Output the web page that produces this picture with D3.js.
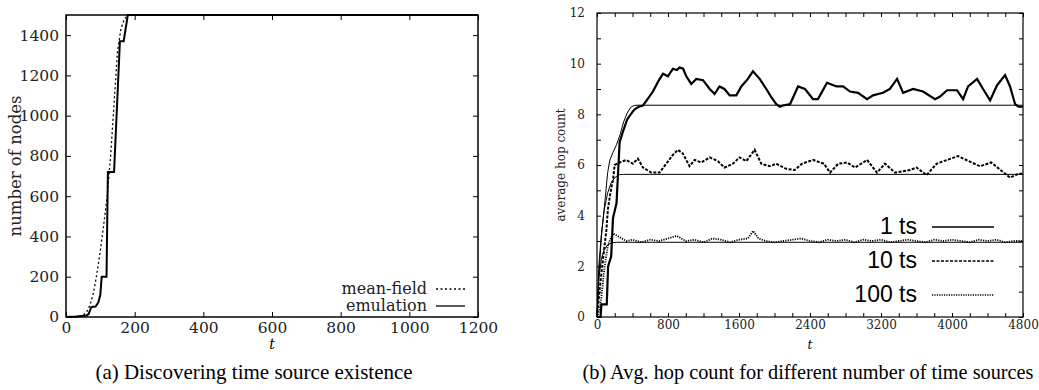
<!DOCTYPE html>
<html>
<head>
<meta charset="utf-8">
<script src="https://cdn.jsdelivr.net/npm/d3@7"></script>
<style>
  body { margin: 0; background: #fff; }
  svg { display: block; }
  .tick text { font-family: 'DejaVu Serif', serif; fill: #222; }
  .tick line { stroke: #000; }
</style>
</head>
<body>
<div id="chart"></div>
<script>
// ---- (a) discovering time source existence: [t, number of nodes]
const meanField = [[0, 0], [40, 2], [50, 8], [60, 25], [70, 60], [80, 120], [90, 215], [100, 330], [110, 460],
  [120, 600], [130, 800], [140, 1060], [150, 1320], [160, 1430], [170, 1480], [180, 1498], [200, 1500], [1200, 1500]]
const emulation = [[0, 0], [30, 3], [60, 8], [66, 15], [74, 50], [86, 52], [94, 72], [100, 110], [104, 200],
  [118, 200], [122, 720], [140, 720], [157, 1370], [168, 1370], [180, 1500], [1200, 1500]]
const xTicksA = [0, 200, 400, 600, 800, 1000, 1200]
const yTicksA = [0, 200, 400, 600, 800, 1000, 1200, 1400]
const legendA = ['mean-field', 'emulation']

// ---- (b) avg. hop count: [t, hops]
const emu1 = [[0, 0], [40, 0], [50, 0.5], [110, 0.5], [125, 2.0], [160, 2.4], [180, 3.9], [220, 4.5], [255, 6.9],
  [300, 7.4], [340, 7.8], [400, 8.1], [424, 8.2], [470, 8.3], [518, 8.35], [570, 8.6], [630, 8.9], [690, 9.3],
  [743, 9.6], [800, 9.5], [855, 9.8], [900, 9.75], [930, 9.85], [970, 9.8], [1006, 9.5], [1062, 9.2], [1119, 9.4],
  [1194, 9.35], [1270, 9.0], [1325, 8.8], [1380, 9.1], [1436, 9.0], [1495, 8.75], [1570, 8.75], [1626, 9.1],
  [1700, 9.4], [1757, 9.7], [1833, 9.4], [1908, 9.0], [1960, 8.7], [2020, 8.4], [2062, 8.3], [2095, 8.35],
  [2175, 8.4], [2265, 9.1], [2344, 9.0], [2434, 8.6], [2490, 8.6], [2592, 9.25], [2626, 9.2], [2700, 9.1],
  [2772, 9.1], [2851, 8.9], [2941, 8.85], [3043, 8.6], [3110, 8.75], [3223, 8.85], [3300, 9.0], [3381, 9.4],
  [3449, 8.85], [3562, 9.0], [3674, 8.9], [3809, 8.6], [3866, 8.7], [3944, 8.95], [4057, 8.95], [4125, 8.6],
  [4181, 9.1], [4283, 9.4], [4350, 9.0], [4429, 8.55], [4508, 9.15], [4598, 9.55], [4654, 9.1], [4711, 8.4],
  [4750, 8.3], [4800, 8.3]]
const emu10 = [[0, 0], [30, 1.1], [68, 2.3], [105, 3.4], [124, 4.3], [161, 5.1], [180, 5.4], [199, 6.0], [255, 6.1],
  [330, 6.2], [405, 6.05], [460, 6.25], [518, 5.9], [612, 5.7], [705, 5.7], [780, 6.05], [855, 6.4], [912, 6.6],
  [968, 6.45], [1043, 5.95], [1100, 6.2], [1175, 6.1], [1270, 6.3], [1362, 6.15], [1436, 5.9], [1532, 6.05],
  [1607, 6.3], [1682, 6.15], [1776, 6.6], [1851, 6.05], [1945, 5.95], [2020, 6.05], [2133, 5.85], [2227, 5.8],
  [2310, 6.05], [2434, 6.2], [2557, 6.05], [2626, 5.7], [2718, 6.05], [2817, 6.1], [2908, 5.9], [3043, 6.2],
  [3155, 5.7], [3245, 6.05], [3358, 5.7], [3525, 5.8], [3600, 5.9], [3714, 5.6], [3826, 6.05], [3944, 6.2],
  [4068, 6.35], [4159, 6.2], [4316, 5.95], [4441, 6.1], [4530, 5.85], [4654, 5.5], [4745, 5.65], [4800, 5.65]]
const emu100 = [[0, 0], [30, 0.3], [50, 0.8], [86, 2.0], [124, 2.85], [180, 3.3], [255, 3.15], [330, 3.0],
  [400, 3.05], [500, 2.95], [600, 3.05], [700, 3.0], [800, 3.1], [900, 3.2], [1000, 3.0], [1100, 3.05],
  [1200, 2.95], [1300, 3.1], [1400, 3.05], [1500, 2.95], [1600, 3.05], [1700, 3.1], [1760, 3.4], [1820, 3.1],
  [1900, 3.0], [2000, 2.95], [2100, 3.0], [2200, 3.05], [2300, 3.1], [2400, 3.0], [2500, 2.95], [2600, 3.05],
  [2700, 3.0], [2800, 3.05], [2900, 2.95], [3000, 3.05], [3100, 3.0], [3200, 3.05], [3300, 2.95], [3400, 3.0],
  [3500, 3.05], [3600, 3.0], [3700, 2.95], [3800, 3.05], [3900, 3.0], [4000, 3.05], [4100, 3.0], [4200, 2.95],
  [4300, 3.05], [4400, 3.0], [4500, 3.05], [4600, 2.95], [4700, 3.0], [4800, 3.0]]
const mf1 = [[0, 0], [20, 1.5], [50, 3.2], [90, 4.6], [120, 5.7], [145, 6.2], [180, 6.5], [220, 6.8], [260, 7.2],
  [300, 7.7], [340, 8.05], [380, 8.28], [420, 8.35], [460, 8.36], [4800, 8.36]]
const mf10 = [[0, 0], [20, 2.0], [50, 3.3], [80, 4.2], [120, 4.9], [160, 5.3], [200, 5.5], [250, 5.62], [300, 5.63], [4800, 5.63]]
const mf100 = [[0, 0], [20, 1.5], [50, 2.3], [80, 2.65], [120, 2.85], [170, 2.93], [220, 2.95], [4800, 2.95]]
const legendB = ['1 ts', '10 ts', '100 ts']

const captions = ['(a) Discovering time source existence', '(b) Avg. hop count for different number of time sources']

const svg = d3.select('#chart').append('svg')
  .attr('width', 1039)
  .attr('height', 390)

// Draws the inward ticks on all four sides plus the frame
function frame (g, x, y, xTicks, yTicks, xLabel, yLabel, tickLen, fontSize, frameWidth, padX, padY) {
  const [x0, x1] = x.range()
  const [y0, y1] = y.range()
  const bottom = g.append('g').attr('transform', `translate(0,${y0})`)
    .call(d3.axisBottom(x).tickValues(xTicks).tickSizeInner(-tickLen).tickSizeOuter(0).tickPadding(padX).tickFormat(xLabel))
  const top = g.append('g').attr('transform', `translate(0,${y1})`)
    .call(d3.axisTop(x).tickValues(xTicks).tickSizeInner(-tickLen).tickSizeOuter(0).tickFormat(''))
  const left = g.append('g').attr('transform', `translate(${x0},0)`)
    .call(d3.axisLeft(y).tickValues(yTicks).tickSizeInner(-tickLen).tickSizeOuter(0).tickPadding(padY).tickFormat(yLabel))
  const right = g.append('g').attr('transform', `translate(${x1},0)`)
    .call(d3.axisRight(y).tickValues(yTicks).tickSizeInner(-tickLen).tickSizeOuter(0).tickFormat(''))
  ;[bottom, top, left, right].forEach(a => {
    a.select('.domain').remove()
    a.selectAll('text').style('font-size', fontSize + 'px')
  })
  g.append('rect')
    .attr('x', x0).attr('y', y1)
    .attr('width', x1 - x0).attr('height', y0 - y1)
    .attr('fill', 'none').attr('stroke', '#000').attr('stroke-width', frameWidth)
}

// ---------- chart (a)
const gA = svg.append('g')
const xA = d3.scaleLinear().domain([0, 1200]).range([66, 478])
const yA = d3.scaleLinear().domain([0, 1500]).range([317, 15])
frame(gA, xA, yA, xTicksA, yTicksA, d3.format('d'), d3.format('d'), 5, 15.5, 1.5, 5, 7)

const lineA = d3.line().x(d => xA(d[0])).y(d => yA(d[1]))
gA.append('path').datum(meanField).attr('d', lineA)
  .attr('fill', 'none').attr('stroke', '#000').attr('stroke-width', 1.3).attr('stroke-dasharray', '2,2.5')
gA.append('path').datum(emulation).attr('d', lineA)
  .attr('fill', 'none').attr('stroke', '#000').attr('stroke-width', 2)

gA.append('text')
  .attr('transform', `translate(21,${(15 + 317) / 2}) rotate(-90)`)
  .attr('text-anchor', 'middle')
  .style('font-family', 'DejaVu Serif, serif').style('font-size', '16.5px').attr('fill', '#222')
  .text('number of nodes')
gA.append('text')
  .attr('x', 272).attr('y', 349)
  .attr('text-anchor', 'middle')
  .style('font-family', 'DejaVu Serif, serif').style('font-style', 'italic').style('font-size', '14px')
  .text('t')

// legend (a)
legendA.forEach((name, i) => {
  const ly = 289 + i * 17
  gA.append('text')
    .attr('x', 427).attr('y', ly + 5)
    .attr('text-anchor', 'end')
    .style('font-family', 'DejaVu Serif, serif').style('font-size', '16px').attr('fill', '#222')
    .text(name)
  gA.append('line')
    .attr('x1', 436).attr('x2', 465).attr('y1', ly).attr('y2', ly)
    .attr('stroke', '#000')
    .attr('stroke-width', 1.3)
    .attr('stroke-dasharray', i === 0 ? '2,2.5' : null)
})

// ---------- chart (b)
const gB = svg.append('g')
const xB = d3.scaleLinear().domain([0, 4800]).range([597, 1023])
const yB = d3.scaleLinear().domain([0, 12]).range([317, 13])
frame(gB, xB, yB, d3.range(0, 4801, 200), d3.range(0, 13, 1),
  d => d % 800 === 0 ? d : '', d => d % 2 === 0 ? d : '', 4, 12, 1.2, 3, 12)

const lineB = d3.line().x(d => xB(d[0])).y(d => yB(d[1]))
const seriesB = [
  { data: mf1, width: 1, dash: null },
  { data: mf10, width: 1, dash: null },
  { data: mf100, width: 1, dash: null },
  { data: emu1, width: 2.2, dash: null },
  { data: emu10, width: 2, dash: '3,1.5' },
  { data: emu100, width: 1.8, dash: '1.2,1.2' }
]
gB.selectAll('path.series')
  .data(seriesB)
  .enter().append('path')
  .attr('class', 'series')
  .attr('d', d => lineB(d.data))
  .attr('fill', 'none')
  .attr('stroke', '#000')
  .attr('stroke-width', d => d.width)
  .attr('stroke-dasharray', d => d.dash)

gB.append('text')
  .attr('transform', `translate(565,${(13 + 317) / 2}) rotate(-90)`)
  .attr('text-anchor', 'middle')
  .style('font-family', 'DejaVu Serif, serif').style('font-size', '12px').attr('fill', '#222')
  .text('average hop count')
gB.append('text')
  .attr('x', 810).attr('y', 349)
  .attr('text-anchor', 'middle')
  .style('font-family', 'DejaVu Serif, serif').style('font-style', 'italic').style('font-size', '12px')
  .text('t')

// legend (b)
const dashB = [null, '3,1.5', '1.2,1.2']
legendB.forEach((name, i) => {
  const ly = 227 + i * 34
  gB.append('text')
    .attr('x', 917).attr('y', ly + 7)
    .attr('text-anchor', 'end')
    .style('font-family', 'Liberation Sans, Arial, sans-serif').style('font-size', '23px')
    .text(name)
  gB.append('line')
    .attr('x1', 932).attr('x2', 994).attr('y1', ly).attr('y2', ly)
    .attr('stroke', '#000')
    .attr('stroke-width', 1.5)
    .attr('stroke-dasharray', dashB[i])
})

// captions
svg.selectAll('text.caption')
  .data(captions)
  .enter().append('text')
  .attr('class', 'caption')
  .attr('x', (d, i) => i === 0 ? 254 : 808)
  .attr('y', 379)
  .attr('text-anchor', 'middle')
  .style('font-family', 'Liberation Serif, Times New Roman, serif')
  .style('font-size', (d, i) => i === 0 ? '21px' : '20.3px')
  .text(d => d)
</script>
</body>
</html>
